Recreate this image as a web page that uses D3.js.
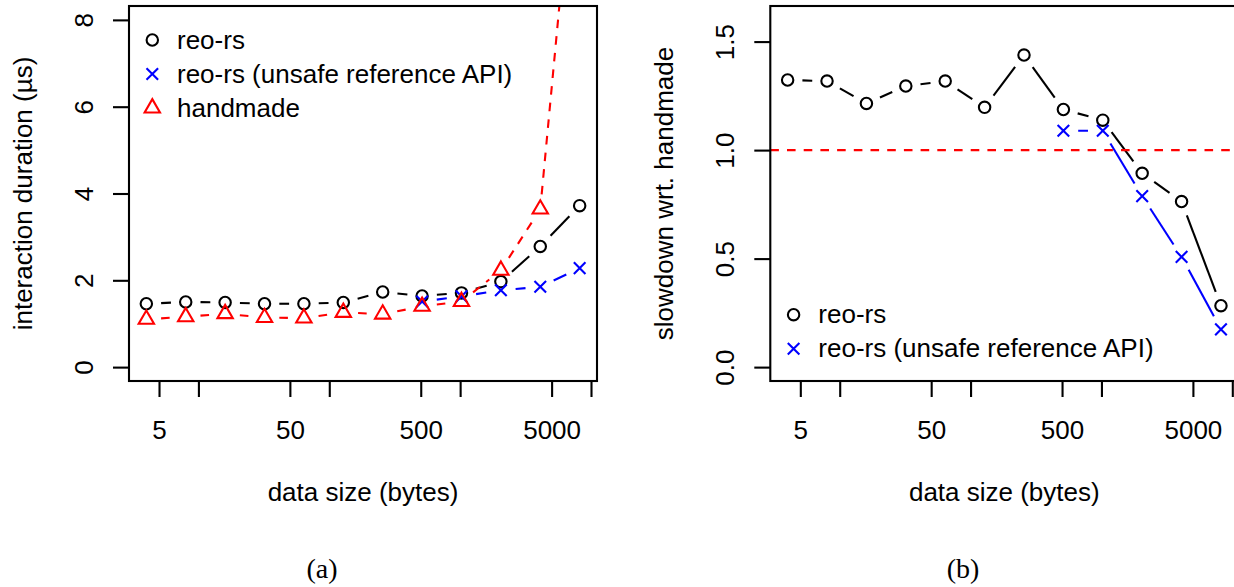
<!DOCTYPE html>
<html><head><meta charset="utf-8">
<script src="https://cdn.jsdelivr.net/npm/d3@7"></script>
<style>
body{margin:0;background:#fff}
svg{display:block}
text{font-family:"Liberation Sans",Arial,sans-serif;fill:#000}
</style>
</head><body>
<svg id="c" width="1234" height="587"></svg>
<script>
// ---------- data ----------
const sizes = [4, 8, 16, 32, 64, 128, 256, 512, 1024, 2048, 4096, 8192];
// panel (a): interaction duration (µs)
const reoDuration    = [1.46, 1.50, 1.49, 1.46, 1.46, 1.49, 1.73, 1.64, 1.71, 1.97, 2.78, 3.72];
const unsafeDuration = [null, null, null, null, null, null, null, 1.51, 1.63, 1.77, 1.85, 2.28];
const handDuration   = [1.10, 1.16, 1.23, 1.14, 1.13, 1.26, 1.22, 1.40, 1.51, 2.23, 3.64, 13.3];
// panel (b): slowdown wrt. handmade
const reoSlowdown    = [1.323, 1.318, 1.215, 1.295, 1.318, 1.197, 1.438, 1.187, 1.138, 0.893, 0.763, 0.283];
const unsafeSlowdown = [null, null, null, null, null, null, null, 1.089, 1.089, 0.788, 0.508, 0.174];
const slowdownRef = 1.0;
// axes
const xTickValues = [5, 10, 50, 100, 500, 1000, 5000, 10000];
const xTickLabels = ["5", "", "50", "", "500", "", "5000", ""];
const yTicksA = [0, 2, 4, 6, 8];
const yTickLabelsA = ["0", "2", "4", "6", "8"];
const yLimA = [0, 8];
const yTicksB = [0, 0.5, 1.0, 1.5];
const yTickLabelsB = ["0.0", "0.5", "1.0", "1.5"];
const yLimB = [0, 1.6];
const legendA = ["reo-rs", "reo-rs (unsafe reference API)", "handmade"];
const legendB = ["reo-rs", "reo-rs (unsafe reference API)"];

// ---------- drawing ----------
const svg = d3.select("#c");
const FS = 26;
const GAP = 14.8;
const LW = 2.1;

function marker(g, type, x, y, color) {
  const r = 5.7;
  if (type === "circle") {
    g.append("circle").attr("cx", x).attr("cy", y).attr("r", r)
      .attr("fill", "none").attr("stroke", color).attr("stroke-width", LW);
  } else if (type === "cross") {
    const h = 5.8;
    g.append("path").attr("d", `M${x-h},${y-h}L${x+h},${y+h}M${x-h},${y+h}L${x+h},${y-h}`)
      .attr("fill", "none").attr("stroke", color).attr("stroke-width", LW);
  } else {
    const rt = 1.555 * r, xc = 1.347 * r, yc = 0.778 * r;
    g.append("path").attr("d", `M${x},${y-rt}L${x+xc},${y+yc}L${x-xc},${y+yc}Z`)
      .attr("fill", "none").attr("stroke", color).attr("stroke-width", LW)
      .attr("stroke-linejoin", "miter");
  }
}

function panel(o) {
  const g = svg.append("g");
  const lx = d3.extent(sizes).map(Math.log10);
  const px = (lx[1] - lx[0]) * 0.04;
  const x = d3.scaleLog().domain([10 ** (lx[0] - px), 10 ** (lx[1] + px)]).range([o.left, o.right]);
  const py = (o.ylim[1] - o.ylim[0]) * 0.04;
  const y = d3.scaleLinear().domain([o.ylim[0] - py, o.ylim[1] + py]).range([o.bottom, o.top]);

  const clipId = "clip" + o.id;
  svg.append("clipPath").attr("id", clipId).append("rect")
    .attr("x", o.left).attr("y", o.top).attr("width", o.right - o.left).attr("height", o.bottom - o.top);

  // x axis
  const xa = g.append("g").attr("transform", `translate(0,${o.bottom})`)
    .call(d3.axisBottom(x).tickValues(xTickValues).tickSize(16)
      .tickFormat((d, i) => xTickLabels[i]));
  xa.select(".domain").remove();
  xa.selectAll("line").attr("stroke", "#000").attr("stroke-width", LW);
  xa.selectAll("text").attr("y", 57.5).attr("dy", null)
    .style("font-size", FS + "px").attr("fill", "#000");

  // y axis
  const ya = g.append("g").attr("transform", `translate(${o.left},0)`)
    .call(d3.axisLeft(y).tickValues(o.yTicks).tickSize(16)
      .tickFormat((d, i) => o.yTickLabels[i]));
  ya.select(".domain").remove();
  ya.selectAll("line").attr("stroke", "#000").attr("stroke-width", LW);
  ya.selectAll("text").attr("x", null).attr("dy", null)
    .attr("transform", "translate(-36.5,0) rotate(-90)")
    .attr("text-anchor", "middle")
    .style("font-size", FS + "px").attr("fill", "#000");

  // axis titles
  g.append("text").attr("x", (o.left + o.right) / 2).attr("y", 501)
    .attr("text-anchor", "middle").style("font-size", FS + "px").text("data size (bytes)");
  g.append("text").attr("transform", `translate(${o.left - 97.5},${(o.top + o.bottom) / 2}) rotate(-90)`)
    .attr("text-anchor", "middle").style("font-size", FS + "px").text(o.yTitle);

  // caption
  g.append("text").attr("x", o.captionX).attr("y", 578)
    .attr("text-anchor", "middle")
    .style("font-family", "'Liberation Serif','Times New Roman',serif")
    .style("font-size", "28px").text(o.caption);

  // data
  const dg = g.append("g").attr("clip-path", `url(#${clipId})`);
  o.series.forEach(s => {
    const pts = [];
    sizes.forEach((sz, i) => { if (s.values[i] != null) pts.push([x(sz), y(s.values[i])]); });
    for (let i = 0; i < pts.length - 1; i++) {
      const [x1, y1] = pts[i], [x2, y2] = pts[i + 1];
      const dx = x2 - x1, dy = y2 - y1, d = Math.hypot(dx, dy);
      if (d <= 2 * GAP) continue;
      const ux = dx / d, uy = dy / d;
      dg.append("line")
        .attr("x1", x1 + ux * GAP).attr("y1", y1 + uy * GAP)
        .attr("x2", x2 - ux * GAP).attr("y2", y2 - uy * GAP)
        .attr("stroke", s.color).attr("stroke-width", LW)
        .attr("stroke-dasharray", s.dash || null);
    }
    pts.forEach(p => marker(dg, s.shape, p[0], p[1], s.color));
  });

  if (o.hline != null) {
    dg.append("line").attr("x1", o.left).attr("x2", o.right)
      .attr("y1", y(o.hline)).attr("y2", y(o.hline))
      .attr("stroke", "#ff0000").attr("stroke-width", LW).attr("stroke-dasharray", "8.6,8.1");
  }

  // box
  g.append("rect").attr("x", o.left).attr("y", o.top)
    .attr("width", o.right - o.left).attr("height", o.bottom - o.top)
    .attr("fill", "none").attr("stroke", "#000").attr("stroke-width", LW);

  // legend
  o.legend.forEach((lab, i) => {
    const ry = o.legendY + i * o.legendStep;
    const s = o.series[i];
    marker(g, s.shape, o.left + 23.3, ry, s.color);
    g.append("text").attr("x", o.left + 48).attr("y", ry + 8.5)
      .style("font-size", FS + "px").text(lab);
  });
}

panel({
  id: "a", left: 129, right: 597, top: 6, bottom: 381,
  ylim: yLimA, yTicks: yTicksA, yTickLabels: yTickLabelsA,
  yTitle: "interaction duration (µs)",
  caption: "(a)", captionX: 322,
  series: [
    { values: reoDuration, color: "#000000", shape: "circle" },
    { values: unsafeDuration, color: "#0000ff", shape: "cross" },
    { values: handDuration, color: "#ff0000", shape: "triangle", dash: "8.6,8.1" }
  ],
  legend: legendA, legendY: 40, legendStep: 34
});

panel({
  id: "b", left: 770.3, right: 1238.3, top: 6, bottom: 381,
  ylim: yLimB, yTicks: yTicksB, yTickLabels: yTickLabelsB,
  yTitle: "slowdown wrt. handmade",
  caption: "(b)", captionX: 963,
  series: [
    { values: reoSlowdown, color: "#000000", shape: "circle" },
    { values: unsafeSlowdown, color: "#0000ff", shape: "cross" }
  ],
  hline: slowdownRef,
  legend: legendB, legendY: 314.7, legendStep: 34
});
</script>
</body></html>
